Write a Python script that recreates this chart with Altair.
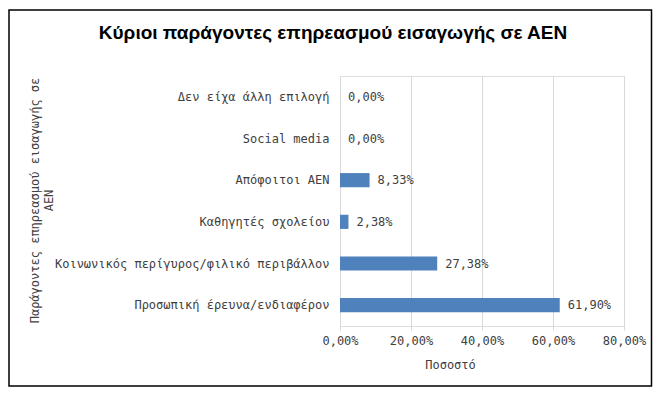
import altair as alt
import pandas as pd

categories = [
    "Δεν είχα άλλη επιλογή",
    "Social media",
    "Απόφοιτοι ΑΕΝ",
    "Καθηγητές σχολείου",
    "Κοινωνικός περίγυρος/φιλικό περιβάλλον",
    "Προσωπική έρευνα/ενδιαφέρον",
]
values = [0.0, 0.0, 8.33, 2.38, 27.38, 61.90]
x_ticks = [0, 20, 40, 60, 80]

df = pd.DataFrame({"cat": categories, "val": values})

MONO = "DejaVu Sans Mono"
TXT = "#404040"

y_enc = alt.Y(
    "cat:N",
    sort=None,
    scale=alt.Scale(paddingInner=0.66, paddingOuter=0.33),
    axis=alt.Axis(
        title=["Παράγοντες  επηρεασμού  εισαγωγής  σε", "ΑΕΝ"],
        titleFont=MONO, titleFontSize=12, titleFontWeight="normal", titleColor=TXT,
        titleX=-299, titleY=124, titleAngle=-90,
        labelFont=MONO, labelFontSize=12, labelColor=TXT, labelPadding=11,
        ticks=False, domain=False, grid=False, labelLimit=400,
    ),
)

x_scale = alt.Scale(domain=[0, 80], nice=False)
x_axis = alt.Axis(
    values=x_ticks,
    labelExpr="replace(format(datum.value, '.2f'), '.', ',') + '%'",
    labelFlush=False, labelOverlap=False,
    title="Ποσοστό", titleFont=MONO, titleFontSize=12, titleFontWeight="normal",
    titleColor=TXT, titleX=110, titleY=33, titleBaseline="top",
    labelFont=MONO, labelFontSize=12, labelColor=TXT, labelPadding=5,
    grid=True, gridColor="#d9d9d9", tickColor="#d9d9d9", tickSize=4,
    domain=False,
)

base = alt.Chart(df)

bars = base.mark_bar(color="#4f81bd").encode(
    x=alt.X("val:Q", scale=x_scale, axis=x_axis),
    y=y_enc,
)

labels = base.transform_calculate(
    lab="replace(format(datum.val, '.2f'), '.', ',') + '%'"
).mark_text(align="left", baseline="middle", dx=8, font=MONO, fontSize=12, color=TXT).encode(
    x=alt.X("val:Q", scale=x_scale),
    y=alt.Y("cat:N", sort=None),
    text="lab:N",
)

border = alt.Chart(alt.Data(values=[{"a": 1}])).mark_rect(
    fill=None, stroke="black", strokeWidth=1.5, clip=False
).encode(
    x=alt.value(-331), x2=alt.value(311.5), y=alt.value(-66), y2=alt.value(310)
)

chart = alt.layer(bars, labels, border).properties(
    width=284,
    height=250,
    padding={"left": 332, "top": 68, "right": 29, "bottom": 65},
    autosize=alt.AutoSizeParams(type="none"),
    title=alt.TitleParams(
        "Κύριοι παράγοντες επηρεασμού εισαγωγής σε ΑΕΝ",
        font="Liberation Sans", fontSize=19, fontWeight="bold", color="black",
        anchor="middle", dx=-149, offset=-34,
    ),
).configure_view(stroke=None).configure(background="white")

chart.save("out.html", embed_options={"renderer": "svg", "actions": False})
